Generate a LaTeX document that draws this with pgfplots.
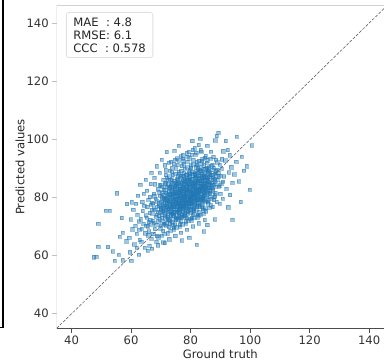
\documentclass[border=0pt]{standalone}
\usepackage{fontspec}
\setmainfont{DejaVu Sans}
\usepackage{pgfplots}
\pgfplotsset{compat=1.18}
\definecolor{mplblue}{HTML}{1F77B4}
\begin{document}
\begin{tikzpicture}[x=1pt,y=1pt]
\path[use as bounding box] (0,0) rectangle (384,362);
\draw[black, line width=1.1pt] (3,362) -- (3,34.5) -- (0,34.5);
\begin{axis}[
  at={(56.7pt,33.7pt)}, anchor=south west,
  scale only axis, width=327.3pt, height=322.6pt,
  xmin=35, xmax=145, ymin=35, ymax=146,
  axis line style={draw=none},
  xtick={40,60,...,140}, ytick={40,60,...,140},
  tick pos=left, tick align=outside, major tick length=4.5pt,
  x tick style={color=black!70, line width=0.8pt},
  y tick style={color=black!25, line width=0.8pt},
  tick label style={font=\fontsize{11.6}{13}\selectfont, text=black!80},
  /pgf/number format/assume math mode=true,
  xlabel={Ground truth}, ylabel={Predicted values},
  label style={font=\fontsize{11.6}{13}\selectfont, text=black!85},
  xlabel style={at={([yshift=-25.6pt]axis description cs:0.5,0)}, anchor=center},
  ylabel style={at={([xshift=-36.7pt]axis description cs:0,0.5)}, anchor=center},
]
\addplot[only marks, mark=square*, mark size=1.7pt,
  mark options={fill=mplblue, draw=mplblue, fill opacity=0.42, draw opacity=0.45, line width=0.3pt}]
coordinates {
(47.5,59.5)(48.9,71)(48.3,59.7)(52.2,63)(48.9,63.1)(54.5,58.3)(52.8,75.5)(51.5,75.5)(55.2,81.5)(56.1,66.5)(56.8,73)(57.2,68)(58.4,65)(58.6,77.8)(57.2,58.5)(55.8,60.3)(60,58.3)(53.8,61.5)
(59.3,66.2)(59.8,72.5)(60.4,69.1)(60.7,75.8)(61.0,63.9)(60.2,78.4)(59.6,61.2)
(61.4,70.3)(61.8,67.6)(62.1,74.2)(62.5,71.8)(62.9,65.4)(61.6,77.9)(62.3,80.6)(62.7,68.9)(61.9,62.8)
(63.2,72.6)(63.5,69.3)(63.8,75.4)(64.1,71.1)(64.4,77.2)(64.7,67.8)(63.4,64.9)(64.9,73.9)(64.2,81.3)(63.7,78.5)(64.6,62.7)(65.0,70.4)
(65.2,73.1)(65.4,76.8)(65.6,70.2)(65.8,79.3)(66.0,68.4)(66.2,74.7)(66.4,72.3)(66.6,77.5)(66.8,65.9)(65.3,82.4)(65.9,71.6)(66.5,84.7)(66.9,75.9)(65.7,67.1)(66.3,80.2)(66.1,63.5)(66.7,70.8)
(67.1,74.6)(67.3,77.9)(67.5,71.3)(67.7,80.5)(67.9,69.2)(68.1,75.8)(68.3,73.4)(68.5,78.7)(68.7,66.8)(68.9,82.9)(67.2,72.1)(67.6,76.3)(68.0,84.6)(68.4,70.7)(68.8,76.9)(67.4,67.5)(68.2,79.6)(68.6,74.1)(67.8,86.9)(68.95,71.9)(67.05,78.2)(68.45,64.9)(67.65,81.4)
(69.1,75.2)(69.3,78.1)(69.5,72.6)(69.7,80.7)(69.9,70.3)(70.1,76.6)(70.3,74.2)(70.5,79.4)(70.7,68.7)(70.9,82.8)(69.2,73.7)(69.4,77.1)(69.6,84.3)(69.8,69.4)(70.0,75.9)(70.2,80.1)(70.4,71.8)(70.6,77.8)(70.8,86.2)(69.15,66.4)(69.45,81.9)(69.75,74.8)(70.05,78.5)(70.35,73.1)(70.65,75.4)(70.95,71.0)(69.55,88.6)(70.25,66.9)(70.85,79.8)(69.85,76.4)(70.45,83.7)(70.75,64.6)
(71.1,76.3)(71.3,79.2)(71.5,73.8)(71.7,81.6)(71.9,71.4)(72.1,77.7)(72.3,75.1)(72.5,80.3)(72.7,69.9)(72.9,83.5)(71.2,74.6)(71.4,78.0)(71.6,85.2)(71.8,70.4)(72.0,76.8)(72.2,81.0)(72.4,72.7)(72.6,78.6)(72.8,87.3)(71.15,67.6)(71.45,82.6)(71.75,75.7)(72.05,79.4)(72.35,74.0)(72.65,76.2)(72.95,72.0)(71.55,89.4)(72.25,67.8)(72.85,80.8)(71.85,77.3)(72.45,84.6)(72.75,65.7)(71.25,72.9)(71.65,80.0)(72.15,73.5)(72.55,82.1)(71.95,86.8)(72.9,77.0)(71.35,91.2)(72.7,92.0)
(73.1,77.4)(73.3,80.2)(73.5,74.9)(73.7,82.6)(73.9,72.5)(74.1,78.8)(74.3,76.1)(74.5,81.4)(74.7,70.8)(74.9,84.4)(73.2,75.7)(73.4,79.1)(73.6,86.3)(73.8,71.5)(74.0,77.9)(74.2,82.0)(74.4,73.8)(74.6,79.7)(74.8,88.2)(73.15,68.7)(73.45,83.7)(73.75,76.8)(74.05,80.5)(74.35,75.1)(74.65,77.3)(74.95,73.1)(73.55,90.3)(74.25,68.9)(74.85,81.9)(73.85,78.4)(74.45,85.7)(74.75,66.8)(73.25,74.0)(73.65,81.1)(74.15,74.6)(74.55,83.2)(73.95,87.8)(74.9,78.1)(73.35,92.4)(74.7,93.1)(73.05,71.2)(74.4,69.7)(73.75,84.9)(74.1,76.9)(74.6,80.7)
(75.1,78.5)(75.3,81.3)(75.5,76.0)(75.7,83.7)(75.9,73.6)(76.1,79.9)(76.3,77.2)(76.5,82.5)(76.7,71.9)(76.9,85.5)(75.2,76.8)(75.4,80.2)(75.6,87.4)(75.8,72.6)(76.0,79.0)(76.2,83.1)(76.4,74.9)(76.6,80.8)(76.8,89.3)(75.15,69.8)(75.45,84.8)(75.75,77.9)(76.05,81.6)(76.35,76.2)(76.65,78.4)(76.95,74.2)(75.55,91.4)(76.25,70.0)(76.85,83.0)(75.85,79.5)(76.45,86.8)(76.75,67.9)(75.25,75.1)(75.65,82.2)(76.15,75.7)(76.55,84.3)(75.95,88.9)(76.9,79.2)(75.35,93.5)(76.7,94.2)(75.05,72.3)(76.4,70.8)(75.75,86.0)(76.1,78.0)(76.6,81.8)(75.5,79.6)(76.3,80.4)(75.9,77.5)(76.8,76.6)(75.2,83.9)
(77.1,79.6)(77.3,82.4)(77.5,77.1)(77.7,84.8)(77.9,74.7)(78.1,81.0)(78.3,78.3)(78.5,83.6)(78.7,73.0)(78.9,86.6)(77.2,77.9)(77.4,81.3)(77.6,88.5)(77.8,73.7)(78.0,80.1)(78.2,84.2)(78.4,76.0)(78.6,81.9)(78.8,90.4)(77.15,70.9)(77.45,85.9)(77.75,79.0)(78.05,82.7)(78.35,77.3)(78.65,79.5)(78.95,75.3)(77.55,92.5)(78.25,71.1)(78.85,84.1)(77.85,80.6)(78.45,87.9)(78.75,69.0)(77.25,76.2)(77.65,83.3)(78.15,76.8)(78.55,85.4)(77.95,90.0)(78.9,80.3)(77.35,94.6)(78.7,95.3)(77.05,73.4)(78.4,71.9)(77.75,87.1)(78.1,79.1)(78.6,82.9)(77.5,80.7)(78.3,81.5)(77.9,78.6)(78.8,77.7)(77.2,85.0)
(79.1,80.7)(79.3,83.5)(79.5,78.2)(79.7,85.9)(79.9,75.8)(80.1,82.1)(80.3,79.4)(80.5,84.7)(80.7,74.1)(80.9,87.7)(79.2,79.0)(79.4,82.4)(79.6,89.6)(79.8,74.8)(80.0,81.2)(80.2,85.3)(80.4,77.1)(80.6,83.0)(80.8,91.5)(79.15,72.0)(79.45,87.0)(79.75,80.1)(80.05,83.8)(80.35,78.4)(80.65,80.6)(80.95,76.4)(79.55,93.6)(80.25,72.2)(80.85,85.2)(79.85,81.7)(80.45,89.0)(80.75,70.1)(79.25,77.3)(79.65,84.4)(80.15,77.9)(80.55,86.5)(79.95,91.1)(80.9,81.4)(79.35,95.7)(80.7,96.4)(79.05,74.5)(80.4,73.0)(79.75,88.2)(80.1,80.2)(80.6,84.0)(79.5,81.8)(80.3,82.6)(79.9,79.7)(80.8,78.8)(79.2,86.1)
(81.1,81.8)(81.3,84.6)(81.5,79.3)(81.7,87.0)(81.9,76.9)(82.1,83.2)(82.3,80.5)(82.5,85.8)(82.7,75.2)(82.9,88.8)(81.2,80.1)(81.4,83.5)(81.6,90.7)(81.8,75.9)(82.0,82.3)(82.2,86.4)(82.4,78.2)(82.6,84.1)(82.8,92.6)(81.15,73.1)(81.45,88.1)(81.75,81.2)(82.05,84.9)(82.35,79.5)(82.65,81.7)(82.95,77.5)(81.55,94.7)(82.25,73.3)(82.85,86.3)(81.85,82.8)(82.45,90.1)(82.75,71.2)(81.25,78.4)(81.65,85.5)(82.15,79.0)(82.55,87.6)(81.95,92.2)(82.9,82.5)(81.35,97.0)(82.7,98.1)(81.05,75.6)(82.4,74.1)(81.75,89.3)(82.1,81.3)(82.6,85.1)
(83.1,82.9)(83.3,85.7)(83.5,80.4)(83.7,88.1)(83.9,78.0)(84.1,84.3)(84.3,81.6)(84.5,86.9)(84.7,76.3)(84.9,89.9)(83.2,81.2)(83.4,84.6)(83.6,91.8)(83.8,77.0)(84.0,83.4)(84.2,87.5)(84.4,79.3)(84.6,85.2)(84.8,93.7)(83.15,74.2)(83.45,89.2)(83.75,82.3)(84.05,86.0)(84.35,80.6)(84.65,82.8)(84.95,78.6)(83.55,95.8)(84.25,74.4)(84.85,87.4)(83.85,83.9)(84.45,91.2)(84.75,72.3)(83.25,79.5)(83.65,86.6)(84.15,80.1)(84.55,88.7)(83.95,93.3)(84.9,83.6)
(85.1,84.0)(85.3,86.8)(85.5,81.5)(85.7,89.2)(85.9,79.1)(86.1,85.4)(86.3,82.7)(86.5,88.0)(86.7,77.4)(86.9,91.0)(85.2,82.3)(85.4,85.7)(85.6,92.9)(85.8,78.1)(86.0,84.5)(86.2,88.6)(86.4,80.4)(86.6,86.3)(86.8,95.8)(85.15,75.3)(85.45,90.3)(85.75,83.4)(86.05,87.1)(86.35,81.7)(86.65,83.9)(86.95,79.7)(85.55,97.9)(86.25,76.5)
(87.1,85.1)(87.3,87.9)(87.5,82.6)(87.7,90.3)(87.9,80.2)(88.1,86.5)(88.3,83.8)(88.5,89.1)(88.7,78.5)(88.9,92.1)(87.2,83.4)(87.4,86.8)(87.6,94.0)(87.8,79.2)(88.0,85.6)(88.2,99.7)(88.4,81.5)(88.6,87.4)(88.8,101.2)(87.35,76.8)
(89.1,86.2)(89.3,102.4)(89.5,83.7)(89.7,91.4)(89.9,81.3)(90.1,87.6)(90.3,84.9)(90.5,93.2)(90.7,79.6)(90.9,96.0)(89.2,88.5)(89.8,77.9)(90.4,89.9)(90.85,85.5)
(91.2,87.3)(91.6,92.8)(92.0,83.1)(92.4,96.4)(92.8,88.7)(93.2,80.9)(93.6,90.5)(94.0,85.2)(91.8,99.5)(93.1,94.6)(94.0,72.4)(92.6,76.7)
(94.6,88.0)(95.3,92.3)(95.5,101.0)(96.2,85.6)(97.1,94.1)(97.9,89.3)(98.8,90.8)(99.8,82.7)(100.5,98.0)(96.8,78.5)
(82.0,63.8)(79.5,66.2)(85.5,70.6)(88.0,72.5)(77.0,65.3)(84.3,68.4)
(62.6,60.3)(65.5,61.8)(67.0,62.5)(69.0,63.6)(71.2,64.4)
(72.0,95.7)(76.0,97.8)(80.5,99.5)(74.5,96.2)(83.2,100.3)(70.2,93.0)(68.5,90.8)(66.8,88.6)(64.9,86.2)(63.0,84.5)
(72.3,78.9)(72.8,75.6)(73.2,82.4)(73.6,77.7)(73.9,80.8)(74.3,79.3)(74.8,75.9)(75.1,81.9)(75.4,77.4)(75.7,80.6)(76.0,84.9)(76.2,78.1)(76.5,76.3)(76.9,82.3)(77.1,78.8)(77.4,83.6)(77.6,76.4)(77.9,81.8)(78.2,79.8)(78.5,77.0)(78.7,84.7)(79.0,82.8)(79.2,80.4)(79.5,76.9)(79.8,83.2)(80.0,79.3)(80.3,86.3)(80.6,81.6)(80.9,79.9)(81.2,83.9)(81.4,77.6)(81.7,82.5)(82.0,80.0)(82.3,85.7)(82.6,79.4)(82.9,83.1)(83.2,87.5)(83.5,82.1)(83.8,80.1)(84.1,85.8)(84.4,83.2)(84.7,88.4)(85.0,81.9)(85.3,84.6)(85.6,87.1)
(74.6,82.7)(75.9,74.8)(76.7,87.4)(77.3,75.2)(78.0,86.4)(78.9,78.3)(79.6,87.4)(80.2,75.6)(81.0,85.0)(81.9,78.6)(82.2,88.6)(83.0,76.8)(83.6,84.7)(84.2,78.9)(84.9,86.1)(73.4,84.2)(74.0,73.9)(75.3,86.3)(76.4,80.9)(77.7,80.2)(78.6,88.0)(79.3,78.5)(80.4,81.0)(81.3,80.7)(81.6,87.8)(82.5,82.6)(83.3,79.3)(83.9,82.9)(84.6,81.1)(85.4,83.1)
(71.8,79.6)(72.6,83.3)(73.0,79.0)(74.9,79.1)(75.6,78.3)(76.3,82.9)(77.0,84.0)(77.8,77.9)(78.4,82.3)(79.4,84.9)(80.1,77.8)(80.7,82.9)(81.1,76.0)(81.8,84.3)(82.4,81.0)(82.8,86.9)(83.4,81.4)(84.0,79.6)(84.8,84.6)(85.8,85.6)(86.2,83.3)(86.7,87.8)(87.1,84.3)(87.6,86.1)(88.1,88.2)
(70.6,77.3)(71.0,80.8)(71.5,76.6)(72.0,83.8)(73.1,86.1)(73.8,74.5)(74.2,85.1)(75.0,84.0)(75.8,75.2)(76.6,77.0)(77.2,87.6)(78.1,74.3)(78.8,86.0)(79.7,79.5)(80.5,88.2)(81.5,81.4)(82.1,77.2)(83.1,89.4)(83.7,78.7)(84.3,87.0)(85.2,80.0)(85.9,88.9)(86.4,81.3)(87.3,89.5)(86.0,90.4)(88.4,84.9)
(70.3,81.5)(70.9,75.1)(71.4,84.9)(71.9,78.2)(72.4,86.1)(72.9,81.2)(73.3,76.3)(73.7,88.9)(74.1,83.4)(74.5,77.6)(74.9,90.1)(75.3,74.0)(75.7,85.3)(76.1,88.2)(76.5,73.5)(76.9,90.9)(77.3,80.1)(77.7,91.5)(78.1,85.6)(78.5,75.3)(78.9,92.3)(79.3,88.7)(79.7,76.2)(80.1,90.2)(80.5,78.0)(80.9,93.0)(81.3,86.6)(81.7,79.9)(82.1,91.3)(82.5,77.3)(82.9,90.4)(83.3,84.0)(83.7,92.6)(84.1,76.4)(84.5,90.0)(84.9,80.8)(85.3,92.0)(85.7,78.6)(86.1,89.7)(86.5,84.8)(86.9,82.2)(87.3,91.3)(87.7,84.5)(88.1,80.8)(88.5,93.1)
(71.2,70.8)(72.6,72.3)(73.9,70.5)(75.4,72.7)(76.8,73.0)(78.3,73.5)(79.8,72.7)(81.2,74.4)(82.7,73.8)(84.2,75.7)(70.1,84.2)(71.6,87.8)(73.0,89.2)(74.4,91.6)(75.9,92.8)(77.4,93.4)(78.9,94.1)(80.4,94.8)(81.8,95.5)(83.3,96.3)(85.0,94.3)(86.6,93.4)(88.9,89.6)(89.4,87.3)(89.8,84.2)
};
\addplot[black, line width=0.5pt, opacity=0.7, dash pattern=on 3pt off 1.5pt] coordinates {(35,35) (146,146)};
\draw[black!70, line width=0.9pt] (rel axis cs:0,0) -- (rel axis cs:1,0);
\draw[black!18, line width=1pt] (rel axis cs:0,0) -- (rel axis cs:0,1) -- (rel axis cs:1,1);
\node[anchor=north west, draw=black!12, line width=0.8pt, rounded corners=2.5pt, fill=white,
  inner xsep=7pt, inner ysep=5pt, align=left, font=\fontsize{11.6}{13.2}\selectfont, text=black!85]
  at ([xshift=9.3pt, yshift=-6.3pt]rel axis cs:0,1) {MAE\ \ : 4.8\\RMSE: 6.1\\CCC\ \ : 0.578};
\end{axis}
\end{tikzpicture}
\end{document}
